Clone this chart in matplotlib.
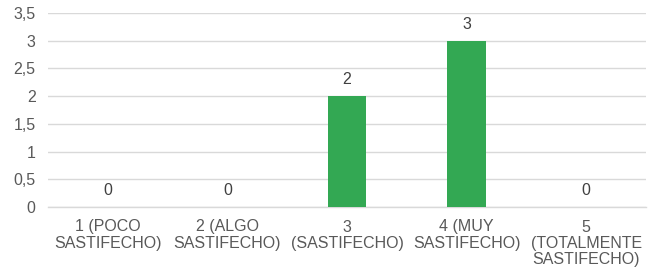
import numpy as np
import matplotlib
matplotlib.use("Agg")
import matplotlib.pyplot as plt

categorias = ["1 (POCO\nSASTIFECHO)", "2 (ALGO\nSASTIFECHO)", "3\n(SASTIFECHO)",
              "4 (MUY\nSASTIFECHO)", "5\n(TOTALMENTE\nSASTIFECHO)"]
valores = [0, 0, 2, 3, 0]
yticks = [0, 0.5, 1, 1.5, 2, 2.5, 3, 3.5]

plt.rcParams['font.family'] = ['Liberation Sans', 'DejaVu Sans']

fig = plt.figure(figsize=(6.49, 2.77), dpi=100)
ax = fig.add_axes([48/649, 70/277, 598/649, 194/277])

x = np.arange(len(valores))
ax.bar(x, valores, width=0.32, color='#33A853', zorder=3)
for xi, v in zip(x, valores):
    ax.annotate(str(v), (xi, v), xytext=(0, 6.5), textcoords='offset points',
                ha='center', va='bottom', fontsize=11.5, color='#404040')

ax.set_xlim(-0.5, len(valores) - 0.5)
ax.set_ylim(0, 3.5)
ax.set_yticks(yticks)
ax.set_yticklabels([("%g" % t).replace('.', ',') for t in yticks])
ax.set_xticks(x)
ax.set_xticklabels(categorias, linespacing=1.1)
ax.grid(axis='y', color='#D9D9D9', linewidth=1, zorder=0)
for s in ['top', 'right', 'left']:
    ax.spines[s].set_visible(False)
ax.spines['bottom'].set_color('#D9D9D9')
ax.spines['bottom'].set_linewidth(1)
ax.tick_params(axis='both', length=0, labelsize=11.5, colors='#595959')
ax.tick_params(axis='x', pad=9)
ax.tick_params(axis='y', pad=9)

fig.savefig("out.png", dpi=100)
